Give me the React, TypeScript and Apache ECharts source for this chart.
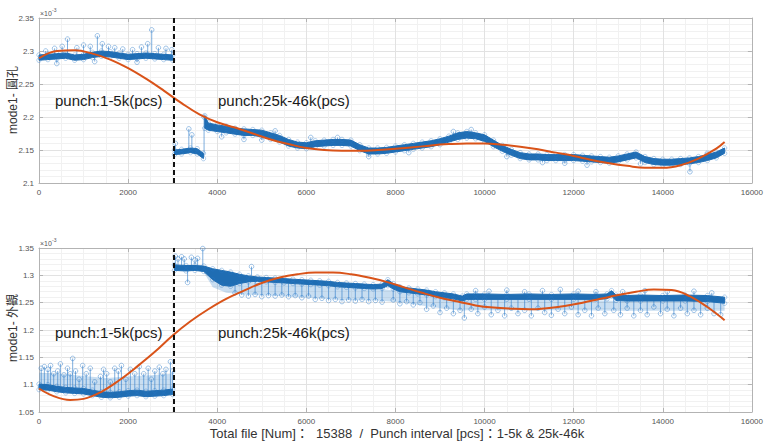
import React, { useEffect, useRef } from "react";
import * as echarts from "echarts";

// ---- Top panel (mode1- 圓孔), values ×10^-3 ----
// band rows: [x, upper edge, lower edge]
const topBandA = [
  [0, 2.294, 2.286], [200, 2.295, 2.287], [400, 2.296, 2.288], [600, 2.297, 2.289],
  [800, 2.294, 2.286], [1000, 2.295, 2.287], [1200, 2.298, 2.29], [1400, 2.3, 2.292],
  [1600, 2.299, 2.291], [1800, 2.297, 2.289], [2000, 2.295, 2.287], [2200, 2.296, 2.288],
  [2400, 2.297, 2.289], [2600, 2.296, 2.288], [2800, 2.295, 2.287], [3000, 2.294, 2.286],
];
const topBandB = [
  [3040, 2.15, 2.143], [3200, 2.151, 2.144], [3400, 2.153, 2.146], [3550, 2.152, 2.144], [3690, 2.145, 2.137],
];
const topBandC = [
  [3720, 2.202, 2.183], [3800, 2.191, 2.18], [4000, 2.188, 2.178], [4200, 2.186, 2.176],
  [4400, 2.183, 2.174], [4600, 2.182, 2.172], [4800, 2.181, 2.172], [5000, 2.18, 2.17],
  [5200, 2.176, 2.166], [5400, 2.172, 2.162], [5600, 2.166, 2.156], [5800, 2.162, 2.153],
  [6000, 2.161, 2.152], [6200, 2.164, 2.155], [6400, 2.165, 2.156], [6600, 2.166, 2.157],
  [6800, 2.166, 2.157], [7000, 2.165, 2.156], [7200, 2.158, 2.149], [7400, 2.153, 2.144],
  [7600, 2.153, 2.144], [7800, 2.154, 2.145], [8000, 2.156, 2.147], [8200, 2.158, 2.149],
  [8400, 2.16, 2.151], [8600, 2.162, 2.153], [8800, 2.164, 2.155], [9000, 2.167, 2.158],
  [9200, 2.171, 2.162], [9400, 2.176, 2.166], [9600, 2.178, 2.168], [9800, 2.176, 2.167],
  [10000, 2.173, 2.163], [10200, 2.165, 2.155], [10400, 2.157, 2.148], [10600, 2.151, 2.142],
  [10800, 2.146, 2.137], [11000, 2.144, 2.135], [11200, 2.144, 2.135], [11400, 2.143, 2.134],
  [11600, 2.143, 2.134], [11800, 2.143, 2.134], [12000, 2.143, 2.134], [12200, 2.142, 2.133],
  [12400, 2.141, 2.132], [12600, 2.14, 2.131], [12800, 2.139, 2.13], [13000, 2.141, 2.132],
  [13200, 2.144, 2.135], [13400, 2.147, 2.138], [13600, 2.14, 2.131], [13800, 2.137, 2.128],
  [14000, 2.136, 2.127], [14200, 2.136, 2.127], [14400, 2.137, 2.128], [14600, 2.138, 2.129],
  [14800, 2.14, 2.131], [15000, 2.143, 2.134], [15200, 2.147, 2.138], [15388, 2.153, 2.145],
];
// spikes: [x, base, tip]
const topSpikes = [
  [150, 2.293, 2.3], [350, 2.294, 2.304], [520, 2.295, 2.307], [640, 2.296, 2.318],
  [850, 2.293, 2.305], [1000, 2.294, 2.309], [1150, 2.297, 2.307], [1310, 2.298, 2.323],
  [1420, 2.299, 2.311], [1560, 2.298, 2.307], [1700, 2.297, 2.305], [1880, 2.295, 2.303],
  [2100, 2.294, 2.302], [2300, 2.295, 2.306], [2440, 2.296, 2.311], [2530, 2.295, 2.332],
  [2680, 2.294, 2.305], [2850, 2.293, 2.304], [2980, 2.293, 2.302],
  [400, 2.288, 2.281], [1250, 2.29, 2.284], [2200, 2.289, 2.283],
  [3060, 2.148, 2.16], [3363, 2.15, 2.182], [3431, 2.15, 2.173], [3705, 2.142, 2.2],
  [4100, 2.177, 2.17], [4600, 2.173, 2.166], [5000, 2.171, 2.165], [5300, 2.172, 2.179],
  [6100, 2.162, 2.169], [6700, 2.163, 2.169], [7400, 2.144, 2.14], [8300, 2.151, 2.146],
  [9300, 2.172, 2.178], [9700, 2.176, 2.181], [10500, 2.146, 2.14], [11300, 2.137, 2.131],
  [11800, 2.136, 2.13], [12300, 2.133, 2.127], [13500, 2.135, 2.129], [14610, 2.129, 2.117],
  [15000, 2.14, 2.145],
];
// polynomial fit: [x, y]
const topFit = [
  [0, 2.289], [400, 2.3], [800, 2.301], [1200, 2.296], [1600, 2.287], [2000, 2.274],
  [2400, 2.258], [2800, 2.24], [3200, 2.221], [3600, 2.204], [4000, 2.192], [4400, 2.184],
  [4800, 2.175], [5200, 2.166], [5600, 2.159], [6000, 2.153], [6400, 2.15], [6800, 2.149],
  [7200, 2.149], [7600, 2.15], [8000, 2.152], [8400, 2.154], [8800, 2.157], [9200, 2.159],
  [9600, 2.16], [10000, 2.16], [10400, 2.158], [10800, 2.155], [11200, 2.151], [11600, 2.146],
  [12000, 2.141], [12400, 2.135], [12800, 2.13], [13200, 2.126], [13600, 2.123], [14000, 2.123],
  [14400, 2.127], [14800, 2.137], [15200, 2.152], [15388, 2.162],
];

// ---- Bottom panel (mode1- 外觀), values ×10^-3 ----
const botBandA = [
  [0, 1.101, 1.091], [200, 1.1, 1.09], [400, 1.097, 1.087], [600, 1.095, 1.085],
  [800, 1.094, 1.084], [1000, 1.093, 1.083], [1200, 1.09, 1.08], [1400, 1.087, 1.077],
  [1600, 1.086, 1.076], [1800, 1.087, 1.077], [2000, 1.089, 1.079], [2200, 1.09, 1.08],
  [2400, 1.088, 1.078], [2600, 1.089, 1.079], [2800, 1.09, 1.08], [3000, 1.092, 1.082],
];
const botBandB = [
  [3040, 1.319, 1.309], [3300, 1.318, 1.308], [3500, 1.318, 1.309], [3700, 1.317, 1.307],
  [3900, 1.312, 1.292], [4100, 1.309, 1.282], [4300, 1.306, 1.28], [4500, 1.302, 1.285],
  [4700, 1.299, 1.288], [4900, 1.297, 1.289], [5100, 1.296, 1.288], [5300, 1.295, 1.287],
  [5500, 1.294, 1.286], [5700, 1.293, 1.285], [5900, 1.292, 1.284], [6100, 1.291, 1.283],
  [6300, 1.29, 1.282], [6500, 1.289, 1.281], [6700, 1.287, 1.279], [6900, 1.286, 1.278],
  [7100, 1.285, 1.277], [7300, 1.284, 1.276], [7500, 1.283, 1.275], [7700, 1.284, 1.276],
  [7830, 1.292, 1.281], [7950, 1.285, 1.275], [8100, 1.279, 1.27], [8300, 1.277, 1.268],
  [8500, 1.275, 1.266], [8700, 1.273, 1.264], [8900, 1.27, 1.261], [9100, 1.268, 1.259],
  [9300, 1.266, 1.257], [9500, 1.262, 1.253], [9600, 1.266, 1.256], [9800, 1.266, 1.256],
  [10000, 1.266, 1.256], [10500, 1.265, 1.256], [11000, 1.266, 1.256], [11500, 1.265, 1.256],
  [12000, 1.266, 1.256], [12500, 1.265, 1.256], [12750, 1.266, 1.257], [12850, 1.272, 1.262],
  [12950, 1.264, 1.254], [13200, 1.263, 1.253], [13500, 1.264, 1.253], [14000, 1.263, 1.253],
  [14500, 1.264, 1.253], [15000, 1.263, 1.252], [15388, 1.26, 1.249],
];
// dense stem fans: [x, upper edge, lower edge]
const botFanA = [
  [0, 1.122, 1.095], [500, 1.12, 1.092], [1000, 1.116, 1.088], [1500, 1.112, 1.082],
  [2000, 1.115, 1.084], [2500, 1.117, 1.084], [3000, 1.12, 1.087],
];
const botFanB = [
  [3700, 1.31, 1.305], [3900, 1.295, 1.278], [4200, 1.285, 1.268], [4600, 1.287, 1.265],
  [5200, 1.287, 1.263], [6000, 1.283, 1.259], [6800, 1.279, 1.255], [7600, 1.276, 1.254],
  [8200, 1.27, 1.25], [8800, 1.263, 1.242], [9500, 1.255, 1.235], [9600, 1.257, 1.236],
  [10500, 1.256, 1.236], [12000, 1.256, 1.236], [13000, 1.253, 1.235], [15388, 1.252, 1.235],
];
const botSpikes = [
  [50, 1.1, 1.13], [120, 1.1, 1.133], [200, 1.1, 1.128], [260, 1.099, 1.135], [330, 1.098, 1.12],
  [420, 1.097, 1.125], [480, 1.097, 1.138], [560, 1.096, 1.118], [640, 1.095, 1.13], [700, 1.095, 1.12],
  [756, 1.094, 1.148], [820, 1.094, 1.125], [900, 1.093, 1.11], [980, 1.093, 1.135], [1060, 1.092, 1.12],
  [1150, 1.091, 1.13], [1250, 1.089, 1.105], [1380, 1.087, 1.115], [1450, 1.087, 1.128], [1520, 1.086, 1.12],
  [1600, 1.086, 1.105], [1700, 1.086, 1.13], [1780, 1.087, 1.125], [1850, 1.088, 1.135], [1950, 1.089, 1.11],
  [2050, 1.089, 1.128], [2150, 1.09, 1.12], [2250, 1.089, 1.133], [2350, 1.088, 1.12], [2450, 1.088, 1.13],
  [2520, 1.088, 1.11], [2600, 1.089, 1.125], [2700, 1.09, 1.132], [2780, 1.09, 1.12], [2850, 1.09, 1.128],
  [2950, 1.091, 1.142], [3000, 1.092, 1.125],
  [3060, 1.318, 1.335], [3120, 1.318, 1.33], [3200, 1.318, 1.334], [3260, 1.318, 1.33], [3335, 1.309, 1.287],
  [3420, 1.318, 1.333], [3500, 1.318, 1.328], [3560, 1.318, 1.331], [3676, 1.318, 1.349], [4770, 1.299, 1.316],
  [4400, 1.283, 1.268], [4550, 1.285, 1.264], [4700, 1.287, 1.262], [4850, 1.288, 1.265], [5000, 1.288, 1.261],
  [5150, 1.288, 1.263], [5300, 1.287, 1.262], [5450, 1.286, 1.264], [5600, 1.285, 1.261], [5750, 1.285, 1.263],
  [5900, 1.284, 1.259], [6050, 1.283, 1.262], [6200, 1.282, 1.256], [6350, 1.282, 1.258], [6500, 1.281, 1.254],
  [6650, 1.279, 1.256], [6800, 1.278, 1.252], [6950, 1.278, 1.255], [7100, 1.277, 1.253], [7250, 1.276, 1.256],
  [7400, 1.275, 1.252], [7550, 1.275, 1.254], [7700, 1.276, 1.251], [7950, 1.275, 1.255], [8100, 1.27, 1.248],
  [8250, 1.268, 1.252], [8400, 1.267, 1.246], [8550, 1.266, 1.25], [8700, 1.264, 1.238], [8850, 1.262, 1.244],
  [9000, 1.26, 1.232], [9150, 1.259, 1.24], [9300, 1.257, 1.23], [9450, 1.254, 1.236], [9546, 1.253, 1.222],
  [9700, 1.257, 1.238], [9850, 1.256, 1.23], [10000, 1.256, 1.242], [10150, 1.256, 1.228], [10300, 1.256, 1.236],
  [10450, 1.256, 1.226], [10600, 1.256, 1.24], [10750, 1.256, 1.23], [10900, 1.256, 1.236], [11050, 1.256, 1.226],
  [11200, 1.256, 1.24], [11350, 1.256, 1.232], [11500, 1.256, 1.227], [11650, 1.256, 1.238], [11800, 1.256, 1.23],
  [11950, 1.256, 1.242], [12100, 1.256, 1.228], [12250, 1.256, 1.236], [12400, 1.256, 1.226], [12550, 1.256, 1.24],
  [12700, 1.256, 1.23], [12900, 1.262, 1.236], [13050, 1.253, 1.228], [13200, 1.253, 1.24], [13350, 1.253, 1.226],
  [13500, 1.253, 1.236], [13650, 1.253, 1.228], [13800, 1.253, 1.242], [13950, 1.253, 1.23], [14100, 1.253, 1.238],
  [14250, 1.253, 1.226], [14400, 1.253, 1.24], [14550, 1.253, 1.23], [14700, 1.253, 1.236], [14850, 1.253, 1.228],
  [15000, 1.253, 1.24], [15150, 1.253, 1.23], [15300, 1.252, 1.228],
  [9800, 1.265, 1.272], [10100, 1.265, 1.271], [10500, 1.265, 1.273], [10900, 1.265, 1.27], [11300, 1.265, 1.272],
  [11700, 1.265, 1.274], [12100, 1.265, 1.271], [12500, 1.265, 1.27], [13100, 1.263, 1.27], [13600, 1.263, 1.272],
  [14100, 1.263, 1.27], [14700, 1.263, 1.271], [15100, 1.263, 1.268],
];
const botFit = [
  [0, 1.093], [300, 1.08], [700, 1.072], [1000, 1.074], [1400, 1.087], [1800, 1.108],
  [2200, 1.133], [2600, 1.16], [3000, 1.19], [3400, 1.216], [3800, 1.238], [4200, 1.257],
  [4600, 1.272], [5000, 1.286], [5400, 1.296], [5800, 1.302], [6200, 1.305], [6600, 1.305],
  [7000, 1.302], [7400, 1.296], [7800, 1.288], [8200, 1.278], [8600, 1.268], [9000, 1.259],
  [9400, 1.252], [9800, 1.245], [10200, 1.241], [10600, 1.239], [11000, 1.238], [11400, 1.24],
  [11800, 1.244], [12200, 1.25], [12600, 1.257], [13000, 1.264], [13400, 1.27], [13800, 1.274],
  [14200, 1.273], [14600, 1.262], [15000, 1.242], [15388, 1.218],
];

const splitX = 3030;
const xTicks = { min: 0, max: 16000, interval: 2000 };
const topY = { min: 2.1, max: 2.35, interval: 0.05 };
const botY = { min: 1.05, max: 1.35, interval: 0.05 };
const topName = "mode1- 圓孔";
const botName = "mode1- 外觀";
const leftNote = "punch:1-5k(pcs)";
const rightNote = "punch:25k-46k(pcs)";
const xTitle = "Total file [Num]：  15388  /  Punch interval [pcs]：1-5k & 25k-46k";

const BLUE = "#1f6db3";
const FAN = "rgba(60,135,205,0.28)";
const EDGE = "rgba(40,120,200,0.55)";
const SPIKE = "rgba(40,120,200,0.6)";
const ORANGE = "#d95319";
const AXIS = "#b3b3b3";
const FONT = "'Liberation Sans', Arial, 'Noto Sans CJK TC', sans-serif";

const plain = (v: number) => String(v);

function mkX(gridIndex: number, position: string, main: boolean) {
  return {
    type: "value", gridIndex, position, ...xTicks,
    axisLine: { show: true, onZero: false, lineStyle: { color: AXIS, width: 1 } },
    axisTick: { show: true, inside: true, length: 4, lineStyle: { color: AXIS } },
    axisLabel: { show: main, fontSize: 8, color: "#555", margin: 5, fontFamily: FONT, formatter: plain },
    splitLine: { show: main, lineStyle: { color: "#e2e2e2" } },
    minorTick: { show: false, splitNumber: 4 },
    minorSplitLine: { show: main, lineStyle: { color: "#f1f1f1" } },
  };
}
function mkY(gridIndex: number, position: string, main: boolean, r: any) {
  return {
    type: "value", gridIndex, position, ...r,
    axisLine: { show: true, onZero: false, lineStyle: { color: AXIS, width: 1 } },
    axisTick: { show: true, inside: true, length: 4, lineStyle: { color: AXIS } },
    axisLabel: { show: main, fontSize: 8, color: "#555", margin: 5, fontFamily: FONT },
    splitLine: { show: main, lineStyle: { color: "#e2e2e2" } },
    minorTick: { show: false, splitNumber: 5 },
    minorSplitLine: { show: main, lineStyle: { color: "#f1f1f1" } },
  };
}

function bandSeries(segs: number[][][], axis: number, fill: string, z: number) {
  return {
    type: "custom", xAxisIndex: axis, yAxisIndex: axis, silent: true, z,
    data: segs.map((s, i) => [s[0][0], s[0][1], i]),
    encode: { x: 0, y: 1 },
    renderItem: (params: any, api: any) => {
      const seg = segs[api.value(2)];
      const upper = seg.map((r) => api.coord([r[0], r[1]]));
      const lower = seg.slice().reverse().map((r) => api.coord([r[0], r[2]]));
      return {
        type: "polygon",
        shape: { points: upper.concat(lower) },
        style: fill === BLUE ? { fill, stroke: BLUE, lineWidth: 1 } : { fill },
      };
    },
  };
}
function edgeSeries(segs: number[][][], axis: number) {
  const pts: number[][] = [];
  segs.forEach((s) => s.forEach((r) => { pts.push([r[0], r[1]]); pts.push([r[0], r[2]]); }));
  return {
    type: "scatter", xAxisIndex: axis, yAxisIndex: axis, silent: true, z: 4,
    symbol: "circle", symbolSize: 4.5, data: pts,
    itemStyle: { color: "rgba(0,0,0,0)", borderColor: EDGE, borderWidth: 0.8 },
  };
}
function spikeSeries(spikes: number[][], axis: number) {
  return {
    type: "custom", xAxisIndex: axis, yAxisIndex: axis, silent: true, z: 2,
    data: spikes, encode: { x: 0, y: [1, 2] },
    renderItem: (params: any, api: any) => {
      const p0 = api.coord([api.value(0), api.value(1)]);
      const p1 = api.coord([api.value(0), api.value(2)]);
      return {
        type: "group",
        children: [
          { type: "line", shape: { x1: p0[0], y1: p0[1], x2: p1[0], y2: p1[1] }, style: { stroke: SPIKE, lineWidth: 1 } },
          { type: "circle", shape: { cx: p1[0], cy: p1[1], r: 2.3 }, style: { fill: "none", stroke: EDGE, lineWidth: 0.8 } },
        ],
      };
    },
  };
}
function fitSeries(data: number[][], axis: number) {
  return {
    type: "line", xAxisIndex: axis, yAxisIndex: axis, silent: true, z: 6,
    data, smooth: 0.4, showSymbol: false, symbol: "none",
    lineStyle: { color: ORANGE, width: 2 },
    markLine: {
      silent: true, symbol: "none", label: { show: false }, z: 7,
      lineStyle: { color: "#111", width: 2, type: [5, 3] },
      data: [{ xAxis: splitX }],
    },
  };
}

function txt(text: string, x: number, y: number, size: number, extra: any = {}) {
  return {
    type: "text", x, y, silent: true, z: 20, ...extra,
    style: { text, fill: "#1a1a1a", font: `${size}px ${FONT}`, textVerticalAlign: "middle", ...(extra.style || {}) },
  };
}

export default function App() {
  const ref = useRef<HTMLDivElement>(null);
  useEffect(() => {
    if (!ref.current) return;
    const chart = echarts.init(ref.current, undefined, { renderer: "svg" });
    chart.setOption({
      animation: false,
      backgroundColor: "#ffffff",
      grid: [
        { left: 39, top: 18, width: 716, height: 165 },
        { left: 39, top: 248, width: 716, height: 164 },
      ],
      xAxis: [mkX(0, "bottom", true), mkX(0, "top", false), mkX(1, "bottom", true), mkX(1, "top", false)],
      yAxis: [mkY(0, "left", true, topY), mkY(0, "right", false, topY), mkY(1, "left", true, botY), mkY(1, "right", false, botY)],
      series: [
        spikeSeries(topSpikes, 0),
        bandSeries([topBandA, topBandB, topBandC], 0, BLUE, 3),
        edgeSeries([topBandA, topBandB, topBandC], 0),
        fitSeries(topFit, 0),
        bandSeries([botFanA, botFanB], 2, FAN, 1),
        spikeSeries(botSpikes, 2),
        bandSeries([botBandA, botBandB], 2, BLUE, 3),
        edgeSeries([botBandA, botBandB], 2),
        fitSeries(botFit, 2),
      ],
      graphic: [
        txt(leftNote, 55, 100, 15),
        txt(rightNote, 218, 100, 15),
        txt(leftNote, 55, 332, 15),
        txt(rightNote, 218, 332, 15),
        txt(topName, 13, 100, 12, { rotation: Math.PI / 2, style: { textAlign: "center", fill: "#333" } }),
        txt(botName, 13, 328, 12, { rotation: Math.PI / 2, style: { textAlign: "center", fill: "#333" } }),
        txt(xTitle, 397, 433, 13, { style: { textAlign: "center", fill: "#333" } }),
        txt("×10", 40, 13, 7, { style: { fill: "#555" } }),
        txt("-3", 52, 10, 5, { style: { fill: "#555" } }),
        txt("×10", 40, 243, 7, { style: { fill: "#555" } }),
        txt("-3", 52, 240, 5, { style: { fill: "#555" } }),
      ],
    });
    return () => chart.dispose();
  }, []);
  return <div ref={ref} style={{ position: "fixed", left: 0, top: 0, width: 766, height: 444 }} />;
}
